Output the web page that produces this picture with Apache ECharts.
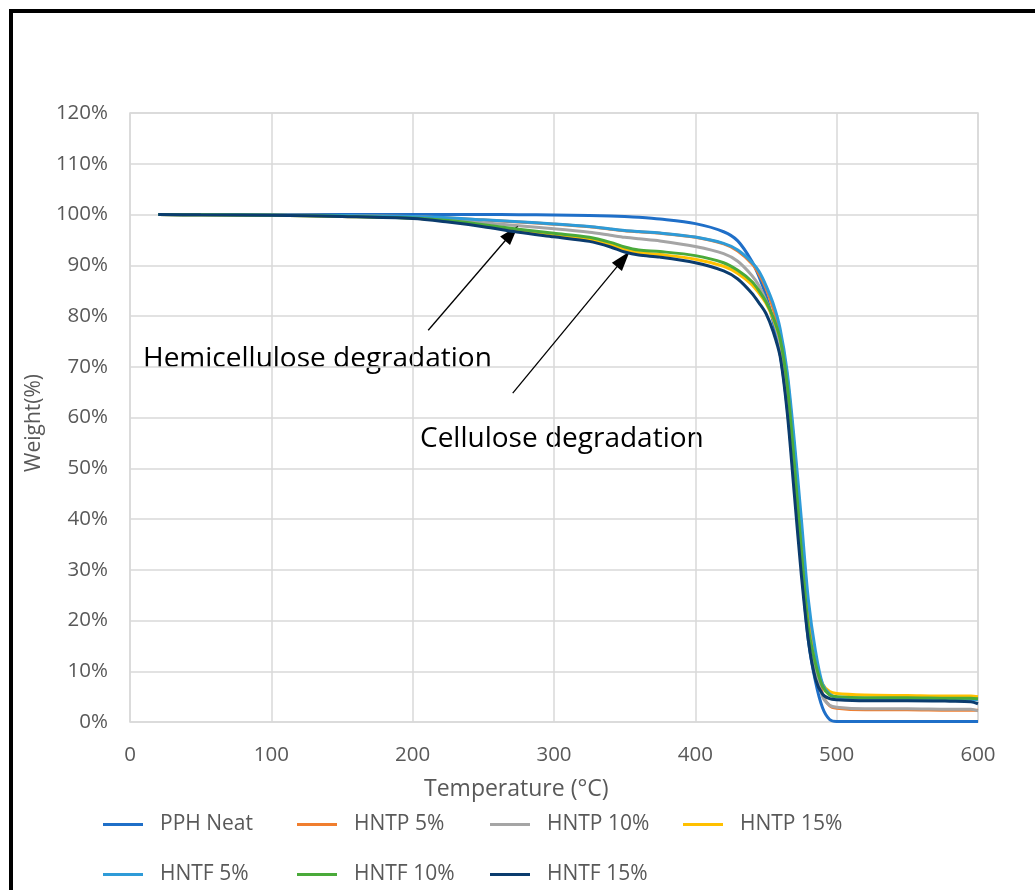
<!DOCTYPE html>
<html>
<head>
<meta charset="utf-8">
<script src="https://cdn.jsdelivr.net/npm/echarts@6/dist/echarts.min.js"></script>
<style>
  html, body { margin: 0; padding: 0; background: #fff; overflow: hidden; }
  #chart { width: 1035px; height: 890px; }
  .frame {
    position: absolute; left: 9px; top: 9px; width: 1100px; height: 1000px;
    border-left: 4px solid #000; border-top: 4px solid #000; pointer-events: none;
  }
</style>
</head>
<body>
<div id="chart"></div>
<div class="frame"></div>
<script>
// temperature (°C) shared by every curve
const temps = [20, 50, 100, 150, 200, 225, 250, 275, 300, 325, 340, 350, 360, 375, 400, 420, 430, 440, 445, 450, 455, 460, 465, 470, 475, 480, 485, 490, 495, 500, 520, 550, 580, 595, 600]

// weight (%)
const pphNeat = [100, 100, 100, 100, 100, 100, 100, 99.95, 99.9, 99.8, 99.7, 99.6, 99.45, 99.1, 98.2, 96.6, 94.8, 90.8, 87.8, 84, 79, 72.5, 62, 47, 31, 16, 8, 2.8, 0.5, 0.1, 0.1, 0.1, 0.1, 0.1, 0.1]
const hntp5 = [100, 99.95, 99.9, 99.8, 99.6, 99.3, 98.9, 98.5, 98.1, 97.6, 97.1, 96.8, 96.6, 96.3, 95.5, 94.2, 92.8, 90.3, 88.3, 85.5, 81.5, 76.5, 68, 54, 38, 22, 13, 5.5, 3.2, 2.7, 2.4, 2.4, 2.3, 2.3, 2.3]
const hntp10 = [100, 99.95, 99.9, 99.75, 99.5, 99.1, 98.4, 97.8, 97.2, 96.5, 95.9, 95.5, 95.2, 94.8, 93.7, 92.3, 90.8, 88, 86, 83, 79.5, 74.5, 65, 50, 33.5, 17.5, 10, 5, 3.3, 2.9, 2.6, 2.6, 2.5, 2.5, 2.2]
const hntp15 = [100, 99.95, 99.85, 99.6, 99.3, 98.7, 97.8, 96.8, 95.9, 95.1, 94.1, 93.1, 92.5, 92.1, 91.2, 89.8, 88.4, 86.2, 84.5, 82.5, 79.5, 75.5, 67, 52, 35, 19, 12, 7.5, 6, 5.6, 5.3, 5.2, 5.1, 5.1, 5.0]
const hntf5 = [100, 99.95, 99.9, 99.8, 99.6, 99.35, 98.95, 98.55, 98.15, 97.65, 97.15, 96.85, 96.65, 96.35, 95.55, 94.3, 93, 90.6, 88.8, 86, 82.5, 77.5, 69, 55.5, 40, 24, 14, 7.5, 5.5, 4.9, 4.6, 4.6, 4.5, 4.5, 4.4]
const hntf10 = [100, 99.95, 99.85, 99.65, 99.3, 98.8, 98.0, 97.1, 96.3, 95.5, 94.5, 93.6, 93.0, 92.7, 91.9, 90.5, 89.0, 86.8, 85, 82.8, 79.8, 75.5, 66.5, 51, 34, 18.5, 11.5, 7, 5.3, 5.0, 4.8, 4.8, 4.7, 4.7, 4.6]
const hntf15 = [100, 99.95, 99.85, 99.6, 99.2, 98.5, 97.6, 96.5, 95.6, 94.7, 93.6, 92.6, 92.0, 91.6, 90.5, 88.9, 87.3, 84.5, 82.6, 80.5, 77, 72, 61, 45, 29, 16, 8.5, 5.5, 4.6, 4.4, 4.2, 4.2, 4.1, 4.0, 3.6]

const seriesNames = ['PPH Neat', 'HNTP 5%', 'HNTP 10%', 'HNTP 15%', 'HNTF 5%', 'HNTF 10%', 'HNTF 15%']
const seriesValues = [pphNeat, hntp5, hntp10, hntp15, hntf5, hntf10, hntf15]
const colors = ['#1F6FC8', '#F07E2E', '#A5A5A5', '#FFC000', '#2E9BD8', '#4AAA3A', '#0B3C6E']

// annotation arrows: [from, to] in (°C, %)
const hemiArrow = [[211, 77.2], [270, 96.3]]
const celluArrow = [[270.8, 64.8], [349, 91.2]]

const font = '"Open Sans", "Noto Sans", sans-serif'
const chart = echarts.init(document.getElementById('chart'))

const series = seriesNames.map((name, i) => ({
  name,
  type: 'line',
  data: temps.map((t, k) => [t, seriesValues[i][k]]),
  showSymbol: false,
  smooth: 0.3,
  lineStyle: { width: 3, color: colors[i] },
  itemStyle: { color: colors[i] },
  z: 2 + i
}))

// arrows sit on the last series
series[6].markLine = {
  silent: true,
  symbol: ['none', 'triangle'],
  symbolSize: [13, 20],
  lineStyle: { color: '#000', width: 1.3, type: 'solid' },
  label: { show: false },
  data: [
    [{ coord: hemiArrow[0] }, { coord: hemiArrow[1] }],
    [{ coord: celluArrow[0] }, { coord: celluArrow[1] }]
  ]
}

// legend laid out in four columns, two rows
const legendCols = [[0, 4], [1, 5], [2, 6], [3]]
const legendLeft = [103, 297, 490, 683]
const legend = legendCols.map((idx, c) => ({
  orient: 'vertical',
  left: legendLeft[c],
  top: 814,
  padding: 0,
  itemGap: 29,
  itemWidth: 40,
  itemHeight: 3,
  icon: 'rect',
  data: idx.map(i => seriesNames[i]),
  textStyle: { fontFamily: font, fontSize: 21, color: '#595959', padding: [0, 0, 0, 12] }
}))

chart.setOption({
  animation: false,
  color: colors,
  grid: {
    left: 130, right: 57, top: 113, bottom: 168,
    show: true, borderColor: '#d9d9d9', borderWidth: 1.5
  },
  legend,
  xAxis: {
    type: 'value',
    min: 0, max: 600, interval: 100,
    axisLine: { show: false },
    axisTick: { show: false },
    axisLabel: { fontFamily: font, fontSize: 20.5, color: '#595959', margin: 23 },
    splitLine: { show: true, lineStyle: { color: '#d9d9d9', width: 1.5 } }
  },
  yAxis: {
    type: 'value',
    min: 0, max: 120, interval: 10,
    axisLine: { show: false },
    axisTick: { show: false },
    axisLabel: { fontFamily: font, fontSize: 20.5, color: '#595959', margin: 22, formatter: '{value}%' },
    splitLine: { show: true, lineStyle: { color: '#d9d9d9', width: 1.5 } }
  },
  graphic: [
    { type: 'text', left: 424, top: 778, silent: true,
      style: { text: 'Temperature (°C)', fontFamily: font, fontSize: 23, fill: '#595959' } },
    { type: 'text', x: 24, y: 472, rotation: Math.PI / 2, silent: true,
      style: { text: 'Weight(%)', fontFamily: font, fontSize: 21, fill: '#595959' } },
    { type: 'text', left: 143, top: 345, silent: true,
      style: { text: 'Hemicellulose degradation', fontFamily: font, fontSize: 28, fill: '#000' } },
    { type: 'text', left: 420, top: 425, silent: true,
      style: { text: 'Cellulose degradation', fontFamily: font, fontSize: 28, fill: '#000' } }
  ],
  series
})
</script>
</body>
</html>
